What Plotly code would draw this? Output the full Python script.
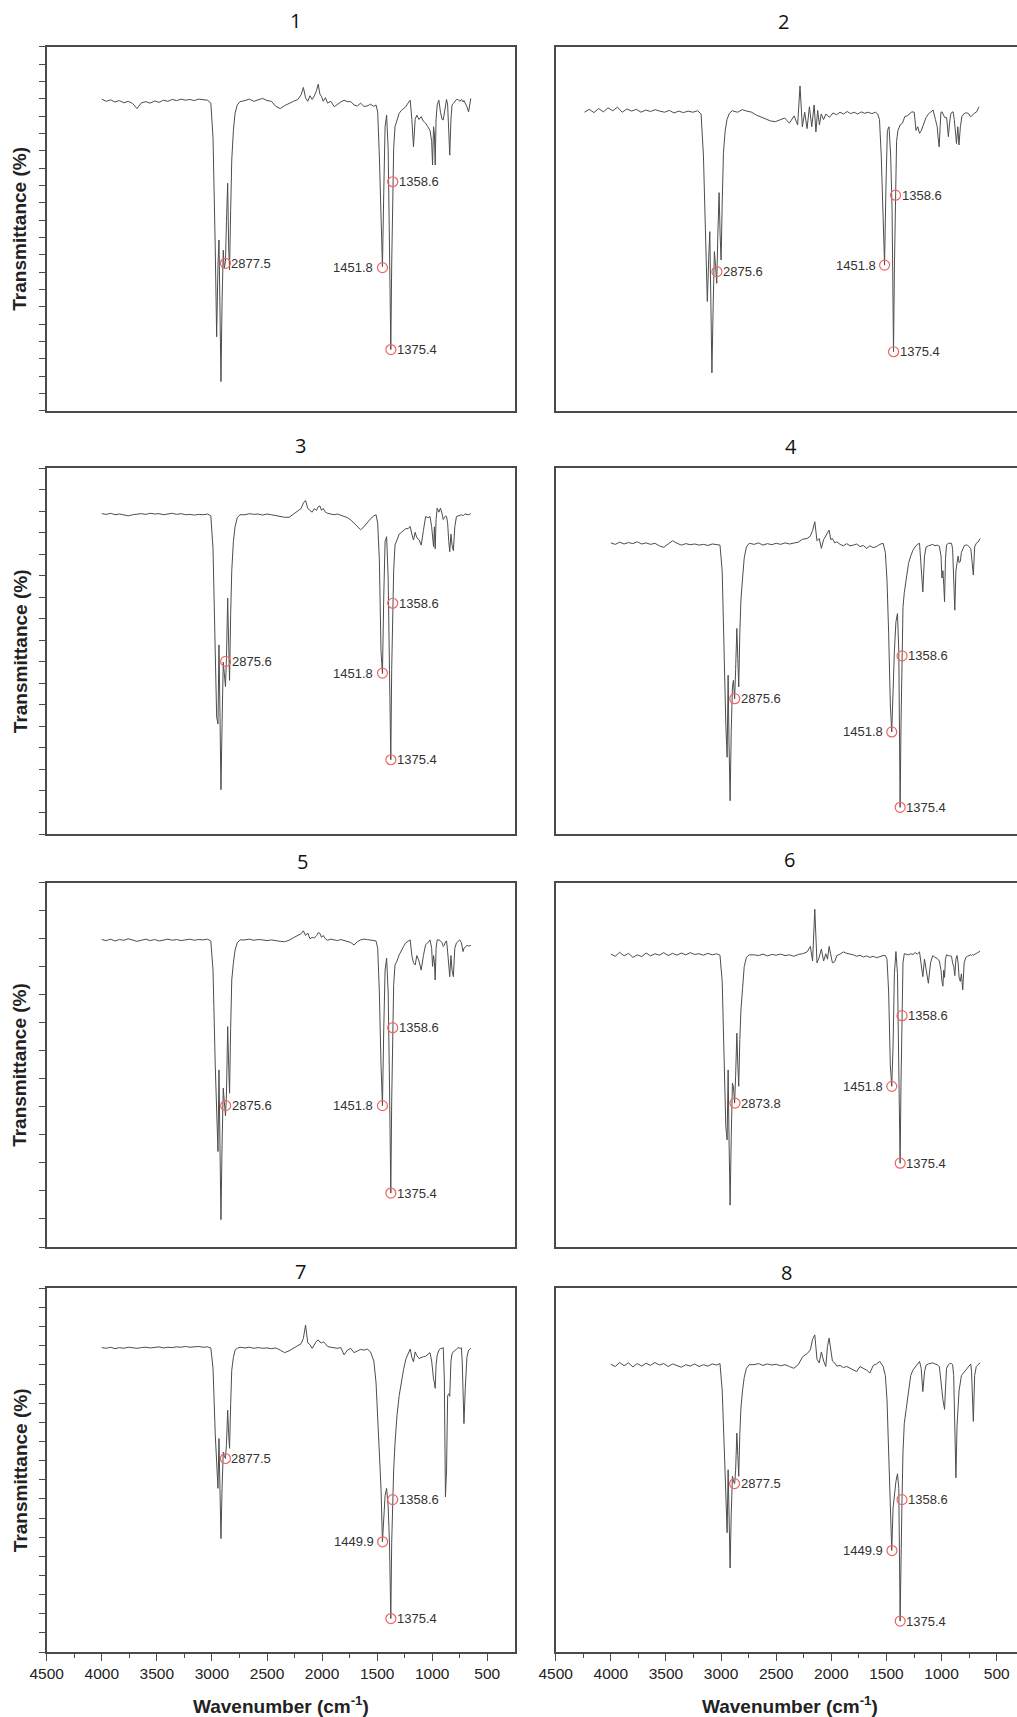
import plotly.graph_objects as go

# ---------------- data ----------------
WN = [
    4000, 3960, 3920, 3880, 3840, 3800, 3760, 3720, 3680, 3640,
    3600, 3560, 3520, 3480, 3440, 3400, 3360, 3320, 3280, 3240,
    3200, 3160, 3120, 3080, 3040, 3010,
    2990, 2970, 2957, 2945, 2936, 2928, 2918, 2908, 2897, 2888,
    2877, 2868, 2857, 2848, 2840, 2830, 2820, 2805, 2790, 2770,
    2745,
    2700, 2660, 2620, 2580, 2540, 2500, 2460, 2420, 2380, 2340,
    2300, 2260, 2220, 2190, 2170, 2150, 2130, 2110, 2090, 2070,
    2050, 2035, 2020, 2005, 1990, 1970, 1950, 1920, 1890, 1860,
    1830, 1800, 1770, 1740, 1710, 1680, 1650, 1620, 1590, 1560,
    1530,
    1510, 1495, 1480, 1465, 1452, 1440, 1428, 1414, 1400, 1388,
    1376, 1368, 1359, 1350, 1338, 1320, 1300, 1280, 1260, 1240,
    1220, 1200, 1185, 1170, 1155, 1140, 1120, 1100, 1080, 1060,
    1040, 1020, 1005, 997, 988, 980, 973, 965, 955, 940,
    925, 910, 900, 890, 880, 870, 860, 850, 841, 830,
    820, 808, 795, 780, 765, 750, 735, 728, 720, 712,
    700, 685, 670, 650,
]

T1 = [
    85.6, 85.0, 85.4, 84.8, 85.2, 84.6, 85.0, 84.4, 83.0, 84.6,
    84.9, 84.5, 85.1, 84.7, 85.3, 85.0, 85.5, 85.2, 85.6, 85.3,
    85.5, 85.2, 85.6, 85.4, 85.3, 84.5,
    75, 45, 20.3, 40, 46.9, 30, 8.0, 30, 44.1, 39.1,
    41, 52, 62.5, 45, 38.7, 55, 68.9, 77, 81.7, 84,
    84.9,
    85.2, 85.6, 85.0, 85.4, 85.8, 85.2, 85.0, 83.6, 83.0, 83.8,
    84.5, 85.0, 85.5, 86.8, 88.8, 86.0, 85.0, 86.5, 85.5, 86.5,
    88.0, 89.7, 87.0, 86.3, 85.0, 86.0, 84.5, 85.0, 83.5, 84.2,
    84.8, 85.3, 84.9, 84.9, 84.0, 83.7, 84.5, 83.6, 83.7, 84.2,
    83.6,
    84.0, 82, 70, 50, 39.6, 60, 78, 81.2, 72, 45,
    16.8, 40, 62.9, 72, 78.0, 79.5, 81.7, 82.5, 83.0, 83.5,
    84.5, 85.3, 80, 72.5, 80, 81.2, 80.0, 80.8, 79.5, 79.0,
    78.0, 77, 74, 67.5, 78, 76, 67.5, 80, 84, 85.3,
    82, 80, 79.9, 82, 83.5, 85.5, 84, 76, 70.2, 80,
    84, 84.4, 85.0, 85.5, 85.5, 85.0, 85.5, 85.0, 84.8, 85.2,
    84.5, 83.5, 82.1, 85.8,
]

T2 = [
    82.0, 82.8, 81.9, 83.0, 82.1, 83.2, 82.4, 83.4, 82.0, 82.9,
    82.3, 82.8, 82.0, 82.6, 82.2, 82.7, 82.3, 82.0, 82.5, 81.8,
    82.3, 81.9, 82.3, 82.0, 82.4, 81.5,
    70, 45, 30, 42, 49.2, 32, 10.4, 28, 43.7, 40,
    35, 48, 59.9, 48, 41.4, 58, 71, 77, 80, 81.7,
    82.4,
    82.0, 82.7, 82.3, 82.0, 81.2, 80.6, 80.0, 79.6, 79.4, 79.8,
    80.4, 79.0, 81.0, 78.5, 89.2, 78.0, 82.0, 77.5, 83.5, 78.0,
    84.0, 76.6, 82.5, 78.5, 81.5, 80.0, 81.5, 80.6, 81.8, 81.3,
    82.0, 81.5, 82.2, 81.6, 82.0, 81.5, 82.1, 81.7, 82.0, 81.6,
    82.0,
    81.5, 80, 70, 50, 40.0, 62, 77, 78, 70, 55,
    16.2, 40, 59.2, 74, 77, 78.5, 79, 80.8, 81, 81.5,
    82.1, 82.0, 77, 78, 76.2, 77, 79, 80.5, 81.5, 82,
    82.6, 80, 78, 75, 72.5, 78, 82, 82.1, 81.5, 80.5,
    80.5, 75.3, 79, 81.5, 82, 82.1, 80, 76, 73.4, 78,
    73.0, 78, 80.8, 81.5, 81.8, 81.8, 81.5, 81.0, 80.8, 81.0,
    81.5, 81.8, 82.1, 83.5,
]

T3 = [
    87.6, 87.4, 87.7, 87.3, 87.5, 87.2, 87.0, 87.3, 87.5, 87.6,
    87.4, 87.7, 87.5, 87.6, 87.3, 87.5, 87.7, 87.4, 87.6, 87.3,
    87.4, 87.2, 87.4, 87.3, 87.5, 87.0,
    78, 50, 32, 30.1, 51.7, 35, 12.1, 30, 47, 44,
    40.3, 48, 64.5, 52, 42, 60, 72, 80, 84, 86.5,
    87.3,
    87.3, 87.6, 87.4, 87.5, 87.2, 87.5, 87.3, 87.0, 86.8, 86.6,
    86.6, 87.5, 88.5, 89.0, 90.5, 91.2, 89.0, 88.5, 88.0, 89.0,
    88.5, 89.5, 89.7, 88.5, 89.0, 88.0, 87.7, 87.5, 87.3, 87.5,
    87.2, 86.8, 86.5, 85.9, 85.0, 84.2, 83.2, 84.0, 85.2, 86.2,
    87.0,
    87.3, 85, 75, 50, 43.9, 65, 80, 81.3, 70, 45,
    20.3, 45, 63.1, 72, 79, 80.5, 82, 82.5, 83, 83.5,
    83.5, 84.1, 82, 80.4, 82.5, 81, 80.5, 79, 83, 86.8,
    86.5, 86.8, 84, 80, 78.6, 84, 78, 86, 89.1, 88,
    89.1, 87.5, 86, 86.5, 87, 86.8, 85, 80, 77.2, 82,
    79, 77.5, 84, 86.8, 87, 87.2, 87.3, 87.2, 87, 87.3,
    87.5, 87.4, 87.3, 87.6,
]

T4 = [
    79.6, 79.2, 79.8, 79.3, 79.7, 79.4, 79.9, 79.3, 79.6, 79.2,
    79.5, 78.8, 78.4, 79.2, 80.2, 79.5, 79.0, 79.4, 79.1, 79.3,
    79.0, 79.2, 78.9, 79.3, 79.1, 79.0,
    72, 45, 30, 21.0, 43.4, 25, 9.1, 28, 40.2, 42,
    37, 45, 56.2, 48, 40.2, 55, 64, 70, 75.5, 78.5,
    79.5,
    79.2, 79.6, 79.0, 79.4, 79.1, 79.5, 79.2, 79.6, 79.3, 79.5,
    79.8, 80.6, 80.8, 81.5, 83.0, 85.4, 80.2, 80.8, 78.1, 80.5,
    81.5, 82.5, 83.1, 80.5, 80.8, 79.6, 79.9, 79.2, 78.8, 79.4,
    78.8, 79.0, 79.3, 78.6, 78.9, 78.1, 78.8, 78.3, 78.6, 79.2,
    79.5,
    77, 69.4, 55, 35.6, 27.9, 40, 50, 58, 60.3, 50,
    7.3, 30, 48.7, 62, 66, 70, 74.0, 76, 77.6, 78.5,
    79.2, 79.5, 74, 66.2, 76, 78.5, 78.8, 79.0, 79.2, 78.8,
    79.0, 78.7, 76, 70, 72, 68, 63.5, 75, 79.0, 79.5,
    79.6, 79.5, 78, 70, 61.2, 72, 74.8, 76, 74.2, 74.5,
    77, 78, 78.8, 79.0, 79.0, 78.5, 78, 76, 72, 70.8,
    78.5, 79.5, 79.8, 80.8,
]

T5 = [
    84.4, 84.1, 84.5, 84.0, 84.4, 84.2, 84.6, 84.3, 83.9, 84.2,
    84.5, 84.1, 84.4, 84.0, 84.3, 84.5, 84.2, 84.4, 84.1, 84.3,
    84.5, 84.2, 84.4, 84.3, 84.5, 84.0,
    76, 50, 33, 26.2, 48.6, 30, 7.5, 28, 43.6, 40,
    36, 42, 60.5, 50, 42.2, 60, 73.3, 78, 81.5, 83.5,
    84.3,
    84.3, 84.5, 84.2, 84.4, 84.3, 84.1, 84.3, 84.0, 83.9, 83.8,
    84.2, 84.9, 85.6, 86.0, 86.8, 85.5, 86.2, 84.6, 85.0, 84.8,
    85.5, 86.3, 86.1, 85.0, 85.5, 84.6, 84.2, 84.5, 84.3, 84.1,
    84.4, 84.2, 83.9, 83.6, 82.9, 83.8, 84.3, 84.5, 84.4, 84.2,
    84.0,
    84, 82, 70, 50, 38.8, 60, 76, 79.3, 70, 45,
    14.8, 40, 60.2, 72, 77.4, 78.5, 80.2, 81.5, 82.5, 83.5,
    84.0, 84.3, 80, 78, 77.4, 80, 78.5, 76, 80, 83,
    83.5, 84.3, 82, 77, 80, 78, 73.3, 82, 84.3, 84.3,
    84.0, 83.5, 82.5, 82.8, 83.8, 84.0, 81, 77, 74.2, 80,
    76, 74.2, 82, 83.5, 84.0, 84.3, 83.5, 82, 81.1, 82,
    82.5, 82.8, 82.6, 82.8,
]

T6 = [
    80.4, 79.8, 80.9, 79.9, 80.6, 79.5, 80.2, 79.7, 80.7, 79.9,
    80.5, 80.1, 80.8, 80.0, 80.6, 80.1, 80.7, 80.2, 80.8, 80.3,
    80.5, 80.1, 80.6, 80.2, 80.5, 80.1,
    73, 48, 33, 29.4, 48.6, 30, 11.5, 30, 45.0, 44,
    39.5, 47, 58.7, 50, 44.1, 57, 65, 71, 77.0, 79.5,
    80.2,
    80.2, 80.0, 80.4, 79.9, 80.3, 80.1, 80.4, 80.0, 80.2, 79.8,
    80.3, 80.5, 81.0, 82.5, 78.5, 92.7, 78.0, 79.5, 81.8, 78.5,
    80.5, 79.0, 82.5, 80.0, 78.0, 78.3, 80.0, 80.4, 81.0, 80.6,
    80.5, 80.2, 79.8, 80.1, 79.6, 79.9, 79.5, 79.8, 79.4, 79.8,
    80.0,
    80.0, 79, 70, 50, 44.1, 55, 75, 81.1, 75, 50,
    23.0, 45, 63.5, 78, 80.5, 80.3, 80.2, 80.5, 80.3, 80.8,
    80.4, 81, 78, 74.2, 79, 75.5, 72.4, 78, 80, 79.5,
    79.2, 78.5, 76, 73, 71.6, 76, 74, 79, 80.2, 80.0,
    79.8, 79.8, 78, 77, 74.5, 79, 80, 78, 74, 72.9,
    75, 70.6, 78, 79.5, 79.8, 80.0, 80.2, 80.0, 80.3, 80.1,
    80.4, 80.6, 80.8, 81.3,
]

T7 = [
    83.7, 83.5, 83.8, 83.4, 83.7, 83.5, 83.8, 83.6, 83.5, 83.7,
    83.8, 83.6, 83.7, 83.9, 83.6, 83.8, 83.7, 83.9, 83.8, 84.0,
    83.8, 83.9, 84.0, 83.8, 83.9, 83.6,
    78, 60, 50, 45.0, 58.7, 45, 31.2, 45, 55.0, 54,
    53.2, 57, 66.5, 60, 56, 68, 77.5, 81, 83.0, 83.5,
    83.8,
    83.6, 83.8, 83.5, 83.7, 83.5, 83.6, 83.4, 83.6, 83.0, 82.3,
    82.8, 83.5, 84.4, 84.8, 86.2, 89.9, 85.0, 84.5, 83.5, 84.5,
    85.5, 85.8, 85.2, 85.0, 85.3, 84.8, 84.0, 83.8, 83.6, 83.5,
    83.7, 81.7, 83.0, 83.5, 82.3, 82.8, 83.2, 83.0, 83.3, 82.5,
    80.0,
    74, 65, 58, 45, 30.3, 38, 43, 45.0, 40, 30,
    9.2, 30, 41.9, 50, 57.3, 65, 70.5, 74.5, 77.7, 80.5,
    82, 83.3, 81, 79.8, 82.5, 81.5, 80.7, 81, 81.2, 81.3,
    81.8, 82.3, 80, 76.6, 75, 74, 72.5, 79, 81.5, 83,
    83.4, 83.5, 83.7, 75, 42.7, 50, 70.5, 71, 70.3, 80,
    82, 82.6, 82.8, 83.3, 83.7, 83.5, 83.6, 80, 72.5, 62.8,
    72.5, 81, 83.0, 83.5,
]

T8 = [
    79.1, 78.5, 79.6, 78.7, 79.5, 78.4, 79.3, 78.6, 79.4, 78.8,
    79.6, 78.9, 79.3, 78.5, 79.2, 78.7, 78.3, 79.0, 78.6, 79.2,
    78.5, 79.0, 78.6, 79.2, 78.9, 79.3,
    72, 55, 42, 32.8, 50.1, 38, 23.1, 38, 48.3, 47,
    46.3, 50, 60.2, 54, 48.3, 60, 67, 72, 75.5, 78.0,
    79.0,
    79.0, 79.3, 78.8, 79.2, 78.9, 79.1, 78.7, 79.0, 78.5, 78.0,
    79.0, 81.2, 82.0, 83.1, 86.0, 87.2, 80.5, 79.5, 82.5, 80.0,
    78.5, 84.0, 86.3, 83.0, 80.0, 79.5, 78.6, 78.8, 78.2, 78.5,
    78.0, 77.5, 77.1, 78.5, 78.0, 77.5, 76.7, 78.8, 79.2, 79.9,
    78.5,
    76, 69.4, 55, 40, 27.9, 39.6, 44, 46.9, 49, 45,
    8.5, 30, 41.9, 55, 62.9, 67, 72.1, 76, 77.5, 78.3,
    78.8, 79.9, 78, 71.6, 77, 78.9, 79.2, 79.3, 79.5, 79.2,
    79.0, 78.5, 75, 72, 69.4, 68, 66.7, 72, 78, 78.9,
    79.3, 79.3, 79.0, 76, 60, 47.9, 62, 68.4, 72, 74,
    76, 76.5, 77, 77.5, 78, 78.5, 79.2, 77, 70, 63.4,
    76, 78.5, 79.0, 79.5,
]

SPECTRA = [T1, T2, T3, T4, T5, T6, T7, T8]
PANEL_TITLES = ["1", "2", "3", "4", "5", "6", "7", "8"]

PEAK_LABELS = [
    ["2877.5", "1451.8", "1358.6", "1375.4"],
    ["2875.6", "1451.8", "1358.6", "1375.4"],
    ["2875.6", "1451.8", "1358.6", "1375.4"],
    ["2875.6", "1451.8", "1358.6", "1375.4"],
    ["2875.6", "1451.8", "1358.6", "1375.4"],
    ["2873.8", "1451.8", "1358.6", "1375.4"],
    ["2877.5", "1449.9", "1358.6", "1375.4"],
    ["2877.5", "1449.9", "1358.6", "1375.4"],
]
PEAK_WN = [
    [2877.5, 1451.8, 1358.6, 1375.4],
    [2875.6, 1451.8, 1358.6, 1375.4],
    [2875.6, 1451.8, 1358.6, 1375.4],
    [2875.6, 1451.8, 1358.6, 1375.4],
    [2875.6, 1451.8, 1358.6, 1375.4],
    [2873.8, 1451.8, 1358.6, 1375.4],
    [2877.5, 1449.9, 1358.6, 1375.4],
    [2877.5, 1449.9, 1358.6, 1375.4],
]
PEAK_T = [
    [40.5, 39.3, 62.9, 16.8],
    [38.2, 40.0, 59.2, 16.2],
    [47.2, 44.0, 63.1, 20.3],
    [37.0, 27.9, 48.7, 7.3],
    [38.8, 38.8, 60.2, 14.8],
    [39.5, 44.1, 63.5, 23.0],
    [53.2, 30.3, 41.9, 9.2],
    [46.3, 27.9, 41.9, 8.5],
]
LABEL_SIDE = ["right", "left", "right", "right"]

X_TICKS = [4500, 4000, 3500, 3000, 2500, 2000, 1500, 1000, 500]

# ---------------- layout constants ----------------
W, H = 1017, 1717
COL_X = [(46.7, 514.5), (555.7, 1017.0)]
ROW_Y = [(46.7, 410.7), (468.3, 834.0), (882.7, 1247.0), (1288.3, 1652.0)]
Y_TICK_DIV = [21, 17, 13, 19]
PX_PER_WN = [0.11015, 0.11025]
PANEL2_PX = (584.5, 979.0)   # panel 2 inset is scaled differently: px of 4000 and 650
TITLE_POS = [(295, 21), (783, 22), (300, 445), (791, 447),
             (302, 861), (789, 859), (300, 1271), (786, 1272)]

FONT = "Liberation Sans, Arial, sans-serif"
FRAME = "#4a4a4a"

fig = go.Figure()
annotations = []
layout = {}

for i in range(8):
    r, c = divmod(i, 2)
    n = i + 1
    sfx = "" if n == 1 else str(n)
    x0, x1 = COL_X[c]
    top, bot = ROW_Y[r]
    if i == 1:
        k = (PANEL2_PX[1] - PANEL2_PX[0]) / (4000 - 650)
        xr = [4000 + (PANEL2_PX[0] - x0) / k, 650 - (x1 - PANEL2_PX[1]) / k]
    else:
        xr = [4500, 4500 - (x1 - x0) / PX_PER_WN[c]]

    fig.add_trace(go.Scatter(
        x=WN, y=SPECTRA[i], mode="lines",
        line=dict(color="#4d4d4d", width=1),
        xaxis="x" + sfx, yaxis="y" + sfx, hoverinfo="skip", showlegend=False))
    fig.add_trace(go.Scatter(
        x=PEAK_WN[i], y=PEAK_T[i], mode="markers",
        marker=dict(symbol="circle-open", size=10, color="#ee6464",
                    line=dict(width=1.2, color="#ee6464")),
        xaxis="x" + sfx, yaxis="y" + sfx, hoverinfo="skip", showlegend=False))

    bottom_row = (r == 3)
    xa = dict(domain=[x0 / W, x1 / W], range=xr, anchor="y" + sfx,
              showline=True, mirror=True, linecolor=FRAME, linewidth=1.5,
              showgrid=False, zeroline=False, fixedrange=True, automargin=False)
    if bottom_row:
        xa.update(tickmode="array", tickvals=X_TICKS,
                  ticktext=[str(v) for v in X_TICKS], ticks="outside",
                  ticklen=7, tickwidth=1.3, tickcolor=FRAME,
                  showticklabels=True,
                  tickfont=dict(family=FONT, size=15.5, color="#222"),
                  minor=dict(ticks="outside", ticklen=4, tickwidth=1.2,
                             tickcolor=FRAME, dtick=250, tick0=0))
    else:
        xa.update(ticks="", showticklabels=False)
    ya = dict(domain=[1 - bot / H, 1 - top / H], range=[0, 100], anchor="x" + sfx,
              showline=True, mirror=True, linecolor=FRAME, linewidth=1.5,
              showgrid=False, zeroline=False, showticklabels=False,
              fixedrange=True, automargin=False)
    if c == 0:
        ya.update(tickmode="linear", tick0=0, dtick=100 / Y_TICK_DIV[r],
                  ticks="outside", ticklen=6, tickwidth=1.2, tickcolor=FRAME)
    else:
        ya.update(ticks="")
    layout["xaxis" + sfx] = xa
    layout["yaxis" + sfx] = ya

    # panel number title
    tx, ty = TITLE_POS[i]
    annotations.append(dict(x=tx / W, y=1 - ty / H, xref="paper", yref="paper",
                            text=PANEL_TITLES[i], showarrow=False,
                            xanchor="center", yanchor="middle",
                            font=dict(family="Open Sans, sans-serif", size=20, color="#111")))
    # peak labels
    for lab, xw, yt, side in zip(PEAK_LABELS[i], PEAK_WN[i], PEAK_T[i], LABEL_SIDE):
        annotations.append(dict(
            x=xw, y=yt, xref="x" + sfx, yref="y" + sfx, text=lab, showarrow=False,
            xanchor="left" if side == "right" else "right",
            xshift=4 if side == "right" else -7, yanchor="middle",
            font=dict(family=FONT, size=13, color="#333")))

    # y-axis title on left panels
    if c == 0:
        annotations.append(dict(x=20 / W, y=1 - (top + bot) / 2 / H, xref="paper", yref="paper",
                                text="<b>Transmittance (%)</b>", textangle=-90, showarrow=False,
                                xanchor="center", yanchor="middle",
                                font=dict(family=FONT, size=19, color="#222")))
    if bottom_row:
        cx = 281 if c == 0 else 790
        annotations.append(dict(x=cx / W, y=1 - 1705 / H, xref="paper", yref="paper",
                                text="<b>Wavenumber (cm<sup>-1</sup>)</b>", showarrow=False,
                                xanchor="center", yanchor="middle",
                                font=dict(family=FONT, size=19, color="#222")))

fig.update_layout(
    width=W, height=H, margin=dict(l=0, r=0, t=0, b=0, autoexpand=False),
    paper_bgcolor="white", plot_bgcolor="white",
    annotations=annotations, showlegend=False, **layout)

fig.write_html("out.html", config={"displayModeBar": False},
               post_script="document.body.style.margin='0';document.body.style.overflow='hidden';")
